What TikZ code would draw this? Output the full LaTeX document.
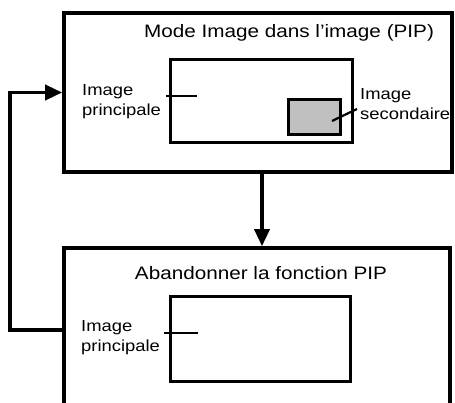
\documentclass[tikz,border=0pt]{standalone}
\usepackage{fontspec}
\setmainfont[FakeStretch=1.15]{Liberation Sans}
\usepackage{xcolor}
\usepackage{tikz}
\usetikzlibrary{arrows.meta,calc,positioning}
\definecolor{subfill}{HTML}{C0C0C0}
\tikzset{
  modebox/.style={draw=black, line width=3.6pt, fill=white, inner sep=0pt},
  screen/.style={draw=black, line width=3pt, fill=white, inner sep=0pt},
  subscreen/.style={screen, fill=subfill},
  heading/.style={font=\fontsize{18}{20}\selectfont, inner sep=0pt},
  tag/.style={font=\fontsize{16}{20}\selectfont, align=left, anchor=west, inner sep=0pt},
  leader/.style={line width=2.2pt},
  flow/.style={line width=3.6pt, -{Triangle[length=17pt,width=15pt]}}
}

\begin{document}
\begin{tikzpicture}[x=1pt,y=-1pt]
\path[use as bounding box] (0,0) rectangle (455,403);
\clip (0,0) rectangle (455,403);
\fill[white] (0,0) rectangle (455,403);

% mode PIP
\node[modebox, minimum width=388pt, minimum height=159pt] (pipmode) at (258,92.5) {};
\node[heading] (pipttl) at (289,33) {Mode Image dans l’image (PIP)};
\node[screen, minimum width=182pt, minimum height=83pt] (mainscr) at (261,101.5) {};
\node[subscreen, minimum width=52pt, minimum height=35pt] (subscr) at (314,117.5) {};
\node[tag] (maintag) at (82,102) {Image\\principale};
\node[tag] (subtag) at (360,104) {Image\\secondaire};
\coordinate (mainpt) at (197,96);
\coordinate (subpt) at (332,121);
\draw[leader] (mainscr.west |- mainpt) ++(-3,0) -- (mainpt);
\draw[leader] (subtag.west) ++(-3,5) -- (subpt);

% abandon PIP
\node[modebox, minimum width=386pt, minimum height=164pt] (quitpip) at (257,330) {};
\node[heading] (quitttl) at (261,273) {Abandonner la fonction PIP};
\node[screen, minimum width=180pt, minimum height=84pt] (quitscr) at (260,339) {};
\node[tag] (quittag) at (81,338) {Image\\principale};
\coordinate (quitpt) at (198,333);
\draw[leader] (quitscr.west |- quitpt) ++(-5,0) -- (quitpt);

\draw[flow] ([xshift=4pt]pipmode.south) -- ([xshift=4pt]pipmode.south |- quitpip.north);
\draw[flow] (quitpip.west) -- ++(-52,0) |- (pipmode.west);
\end{tikzpicture}
\end{document}
